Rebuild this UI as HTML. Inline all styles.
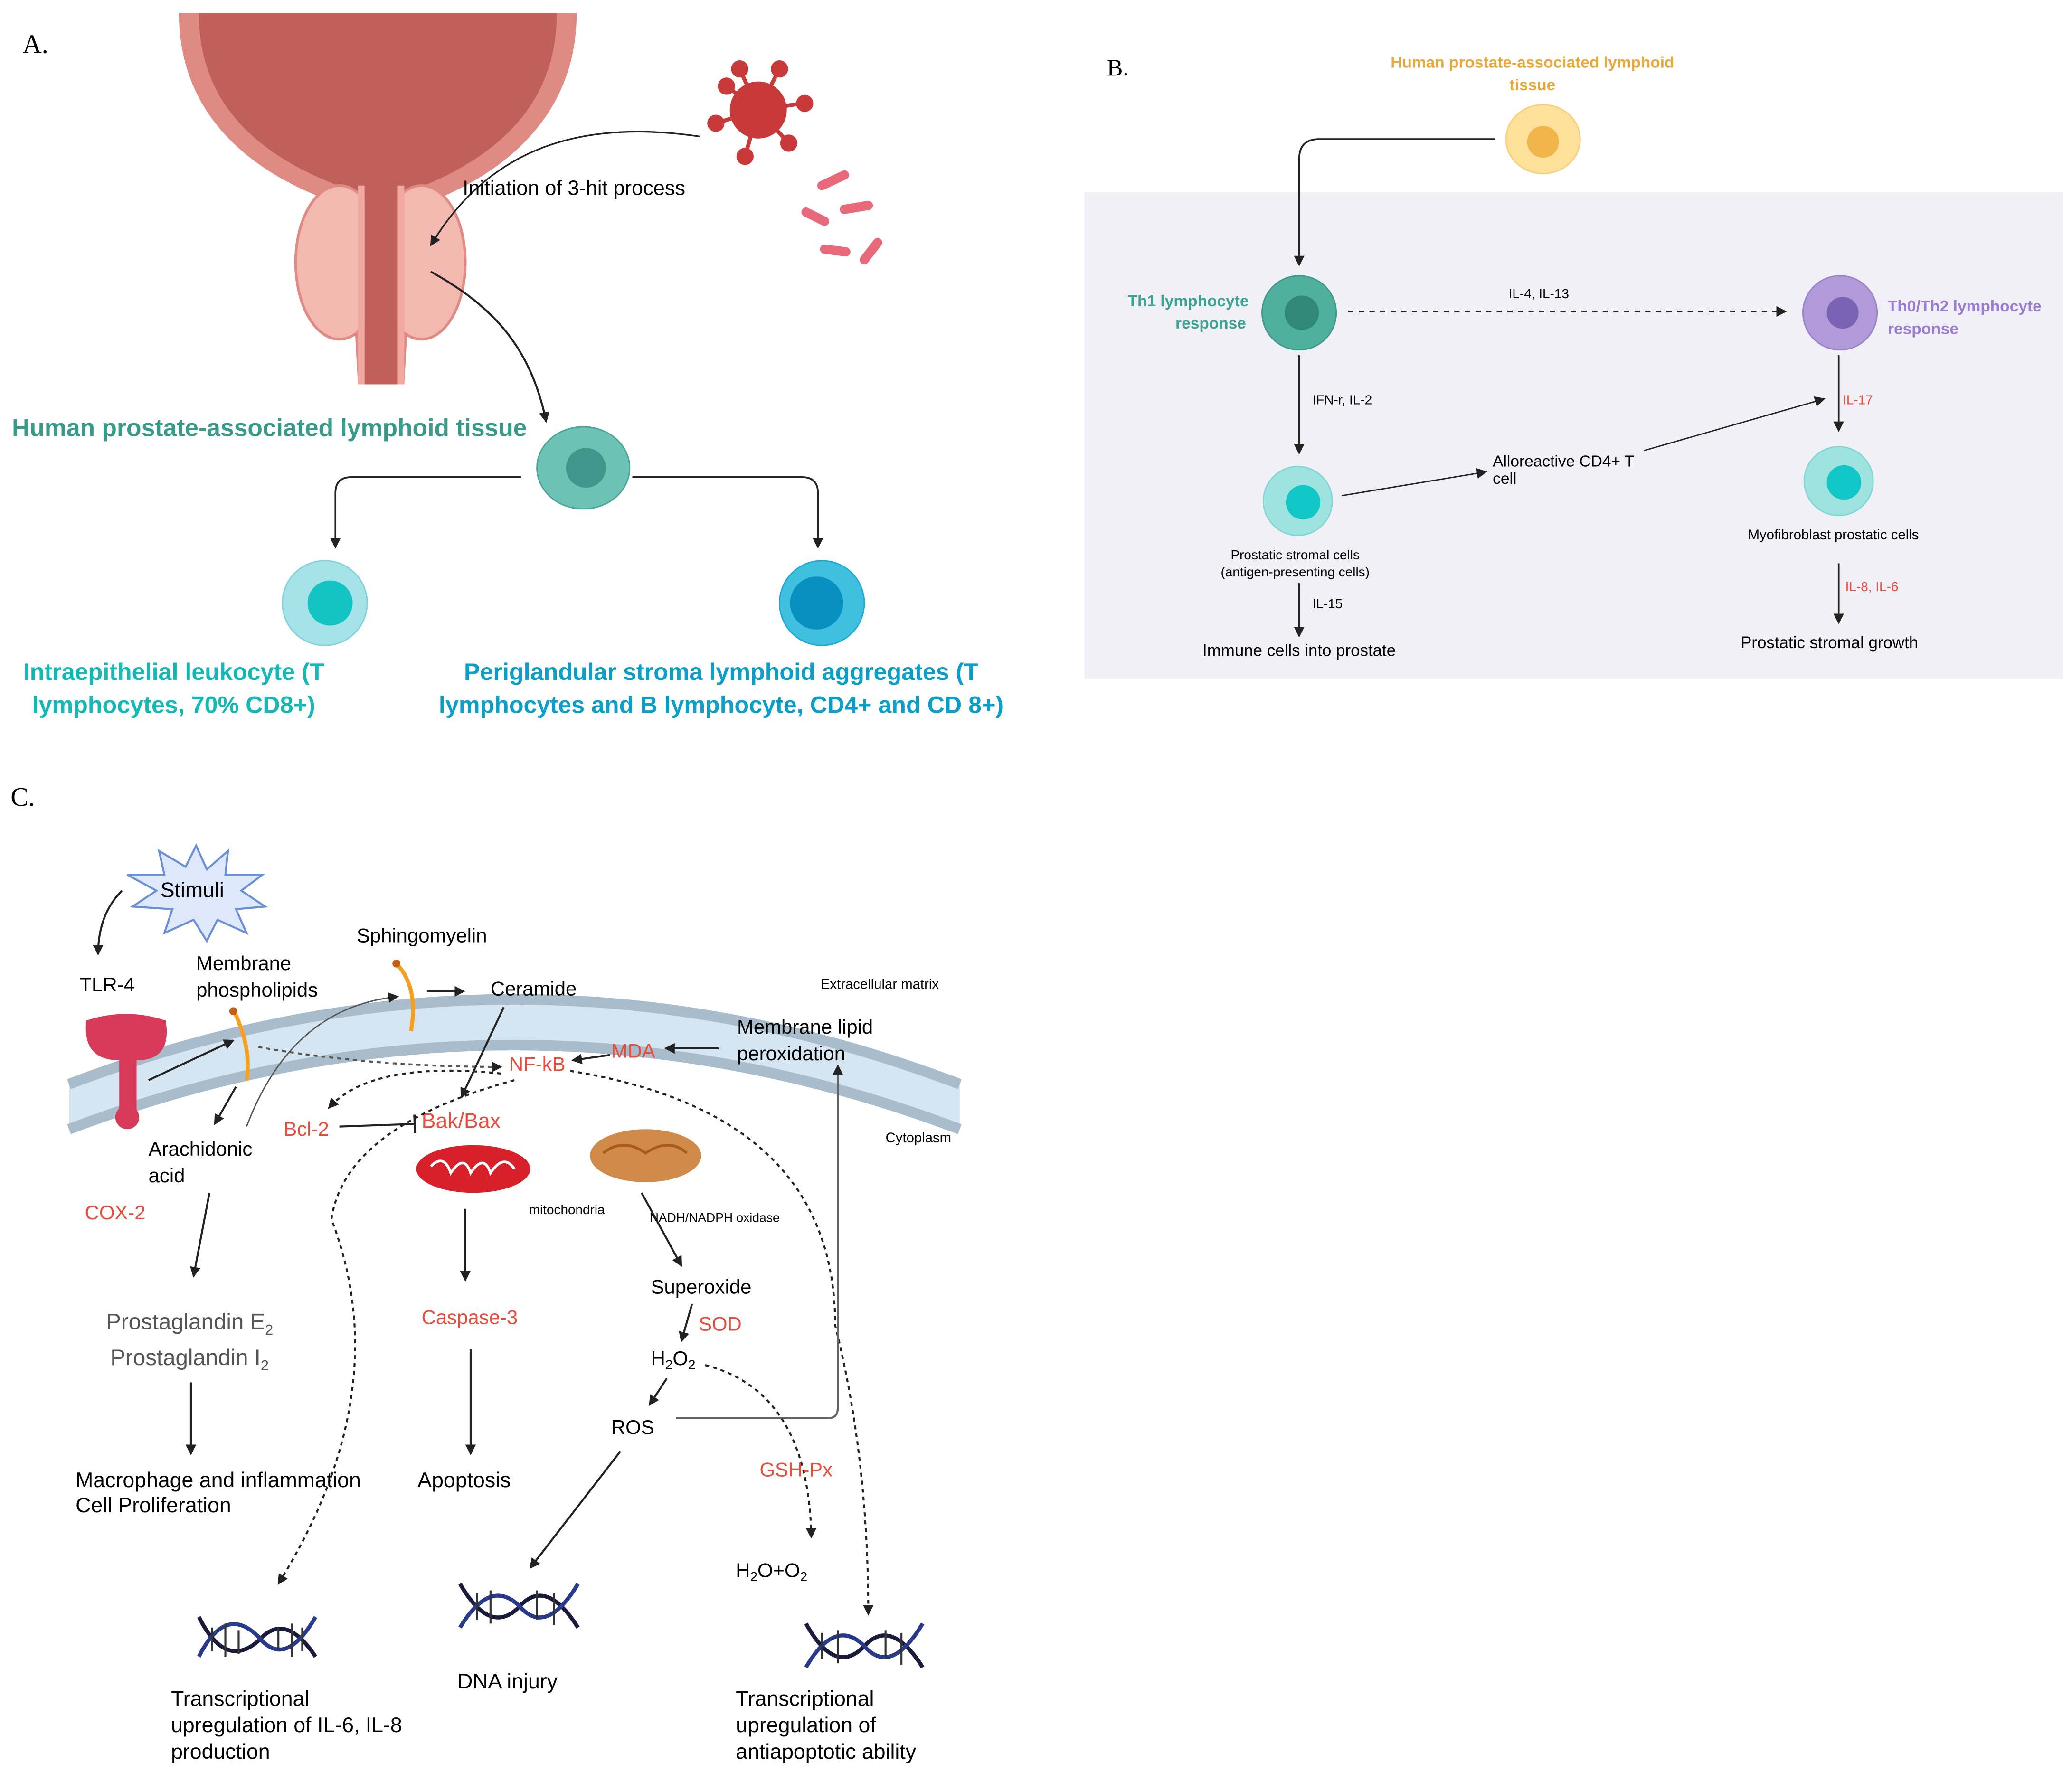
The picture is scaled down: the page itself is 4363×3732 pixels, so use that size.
<!DOCTYPE html>
<html><head><meta charset="utf-8"><style>
html,body{margin:0;padding:0;background:#fff}
svg{display:block}
text{font-family:"Liberation Sans",sans-serif}
.s{font-family:"Liberation Serif",serif}
</style></head><body>
<svg width="4363" height="3732" viewBox="0 0 1563 1337" preserveAspectRatio="none" xmlns="http://www.w3.org/2000/svg">
<defs>
<marker id="a" markerWidth="8" markerHeight="8" refX="7" refY="4" orient="auto" markerUnits="userSpaceOnUse"><path d="M0,0 L8,4 L0,8 z" fill="#222"/></marker>
<marker id="t" markerWidth="4" markerHeight="14" refX="2" refY="7" orient="auto" markerUnits="userSpaceOnUse"><rect x="1" y="0" width="2" height="14" fill="#222"/></marker>
</defs>
<rect width="1563" height="1337" fill="#fff"/>
<!-- Panel A -->
<text x="17" y="40" class="s" font-size="20">A.</text>
<path d="M135,10 L435,10 C435,80 390,125 330,150 L312,165 L305,290 L270,290 L263,165 L245,150 C180,125 135,80 135,10z" fill="#e08a84"/>
<path d="M150,10 L420,10 C420,75 380,115 320,140 L300,160 L298,290 L277,290 L275,160 L255,140 C190,115 150,75 150,10z" fill="#c0605a"/>
<ellipse cx="256" cy="198" rx="33" ry="58" fill="#f3b8b0" stroke="#e08a84" stroke-width="2"/>
<ellipse cx="318" cy="198" rx="33" ry="58" fill="#f3b8b0" stroke="#e08a84" stroke-width="2"/>
<rect x="275" y="140" width="25" height="150" fill="#c0605a"/>
<rect x="270" y="140" width="5" height="150" fill="#f0a8a0"/><rect x="300" y="140" width="5" height="150" fill="#f0a8a0"/>
<g fill="#c83a3a" stroke="#c83a3a" stroke-width="3">
<circle cx="572" cy="83" r="20"/><line x1="572" y1="83" x2="558" y2="52"/><line x1="572" y1="83" x2="588" y2="52"/><line x1="572" y1="83" x2="605" y2="78"/><line x1="572" y1="83" x2="595" y2="108"/><line x1="572" y1="83" x2="562" y2="118"/><line x1="572" y1="83" x2="540" y2="93"/><line x1="572" y1="83" x2="548" y2="65"/>
<circle cx="558" cy="52" r="5"/><circle cx="588" cy="52" r="5"/><circle cx="607" cy="78" r="5"/><circle cx="595" cy="108" r="5"/><circle cx="562" cy="118" r="5"/><circle cx="540" cy="93" r="5"/><circle cx="548" cy="65" r="5"/>
</g>
<g stroke="#e86a7a" stroke-width="7" stroke-linecap="round">
<line x1="620" y1="140" x2="637" y2="132"/><line x1="637" y1="158" x2="655" y2="155"/><line x1="608" y1="160" x2="622" y2="167"/><line x1="622" y1="188" x2="638" y2="190"/><line x1="652" y1="196" x2="662" y2="183"/>
</g>
<path d="M528,103 C440,90 370,110 325,185" fill="none" stroke="#222" stroke-width="1.2" marker-end="url(#a)"/>
<text x="349" y="147" font-size="15.5">Initiation of 3-hit process</text>
<path d="M325,205 C370,230 400,260 412,318" fill="none" stroke="#222" stroke-width="1.5" marker-end="url(#a)"/>
<text x="9" y="329" font-size="18.5" font-weight="bold" fill="#3a9a8a">Human prostate-associated lymphoid tissue</text>
<ellipse cx="440" cy="353" rx="35" ry="31" fill="#6cc2b4" stroke="#4aa394"/><circle cx="442" cy="353" r="15" fill="#3f968a"/>
<path d="M393,360 L265,360 Q253,360 253,372 L253,413" fill="none" stroke="#222" stroke-width="1.3" marker-end="url(#a)"/>
<path d="M477,360 L605,360 Q617,360 617,372 L617,413" fill="none" stroke="#222" stroke-width="1.3" marker-end="url(#a)"/>
<circle cx="245" cy="455" r="32" fill="#a6e3e8" stroke="#7fd2da"/><circle cx="249" cy="455" r="17" fill="#14c4c4"/>
<circle cx="620" cy="455" r="32" fill="#3fc0e0" stroke="#1fa8d2"/><circle cx="616" cy="455" r="20" fill="#0890c0"/>
<g font-size="18" font-weight="bold" fill="#14b8b4" text-anchor="middle"><text x="131" y="513">Intraepithelial leukocyte (T</text><text x="131" y="538">lymphocytes, 70% CD8+)</text></g>
<g font-size="18" font-weight="bold" fill="#0a9ec8" text-anchor="middle"><text x="544" y="513">Periglandular stroma lymphoid aggregates (T</text><text x="544" y="538">lymphocytes and B lymphocyte, CD4+ and CD 8+)</text></g>
<!-- Panel B -->
<text x="835" y="57" class="s" font-size="18">B.</text>
<rect x="818" y="145" width="738" height="367" fill="#f0f0f6"/>
<g font-size="12" font-weight="bold" fill="#e8a73a" text-anchor="middle"><text x="1156" y="51">Human prostate-associated lymphoid</text><text x="1156" y="68">tissue</text></g>
<ellipse cx="1164" cy="105" rx="28" ry="26" fill="#fde19a" stroke="#f7cf78"/><circle cx="1164" cy="107" r="12" fill="#f2b54c"/>
<path d="M1128,105 L995,105 Q980,105 980,120 L980,200" fill="none" stroke="#222" stroke-width="1.3" marker-end="url(#a)"/>
<ellipse cx="980" cy="236" rx="28" ry="28" fill="#4fb09e" stroke="#3d9a88"/><circle cx="982" cy="236" r="13" fill="#2f8878"/>
<g font-size="12" font-weight="bold" fill="#3aa392" text-anchor="end"><text x="942" y="231">Th1 lymphocyte</text><text x="940" y="248">response</text></g>
<path d="M1017,235 L1347,235" stroke="#222" stroke-width="1.3" stroke-dasharray="4,4" fill="none" marker-end="url(#a)"/>
<text x="1138" y="225" font-size="10">IL-4, IL-13</text>
<ellipse cx="1388" cy="236" rx="28" ry="28" fill="#b09ad8" stroke="#9a82c8"/><circle cx="1390" cy="236" r="12" fill="#7a62b4"/>
<g font-size="12" font-weight="bold" fill="#9a7cd0"><text x="1424" y="235">Th0/Th2 lymphocyte</text><text x="1424" y="252">response</text></g>
<line x1="980" y1="268" x2="980" y2="342" stroke="#222" stroke-width="1.3" marker-end="url(#a)"/>
<text x="990" y="305" font-size="10">IFN-r,  IL-2</text>
<circle cx="979" cy="378" r="26" fill="#9ee3e0" stroke="#7fd6d2"/><circle cx="983" cy="379" r="13" fill="#10c6c6"/>
<line x1="1012" y1="374" x2="1121" y2="356" stroke="#222" stroke-width="1" marker-end="url(#a)"/>
<g font-size="12"><text x="1126" y="352">Alloreactive CD4+ T</text><text x="1126" y="365">cell</text></g>
<line x1="1240" y1="340" x2="1376" y2="301" stroke="#222" stroke-width="1" marker-end="url(#a)"/>
<g font-size="10" text-anchor="middle"><text x="977" y="422">Prostatic stromal cells</text><text x="977" y="435">(antigen-presenting cells)</text></g>
<line x1="980" y1="440" x2="980" y2="480" stroke="#222" stroke-width="1.3" marker-end="url(#a)"/>
<text x="990" y="459" font-size="10">IL-15</text>
<text x="980" y="495" font-size="12.5" text-anchor="middle">Immune cells into prostate</text>
<line x1="1387" y1="268" x2="1387" y2="325" stroke="#222" stroke-width="1.3" marker-end="url(#a)"/>
<text x="1390" y="305" font-size="10" fill="#e74c3c">IL-17</text>
<circle cx="1387" cy="363" r="26" fill="#9ee3e0" stroke="#7fd6d2"/><circle cx="1391" cy="364" r="13" fill="#10c6c6"/>
<text x="1383" y="407" font-size="10.5" text-anchor="middle">Myofibroblast prostatic cells</text>
<line x1="1387" y1="425" x2="1387" y2="470" stroke="#222" stroke-width="1.3" marker-end="url(#a)"/>
<text x="1392" y="446" font-size="10" fill="#e74c3c">IL-8, IL-6</text>
<text x="1380" y="489" font-size="12.5" text-anchor="middle">Prostatic stromal growth</text>
<!-- Panel C -->
<text x="8" y="608" class="s" font-size="20">C.</text>
<path d="M52,818 Q388,690 724,818 L724,852 Q388,725 52,852z" fill="#d5e6f2"/>
<path d="M52,818 Q388,690 724,818" fill="none" stroke="#a8bccb" stroke-width="8"/>
<path d="M52,852 Q388,725 724,852" fill="none" stroke="#a8bccb" stroke-width="8"/>
<polygon points="148,638 156,656 172,642 170,660 198,660 182,672 200,684 178,686 186,704 164,694 156,710 146,694 124,704 130,686 100,684 118,672 96,660 124,660 120,642 140,654" fill="#dde9fb" stroke="#6a8fd6" stroke-width="1.5"/>
<text x="121" y="677" font-size="16">Stimuli</text>
<path d="M92,672 Q74,690 74,720" fill="none" stroke="#222" stroke-width="1.5" marker-end="url(#a)"/>
<text x="60" y="748" font-size="15">TLR-4</text>
<g fill="#d83a5a"><path d="M65,770 Q95,760 125,770 Q130,800 103,800 L103,840 L90,840 L90,800 Q62,800 65,770z"/><circle cx="96" cy="843" r="9"/></g>
<g font-size="15"><text x="148" y="732">Membrane</text><text x="148" y="752">phospholipids</text><text x="269" y="711">Sphingomyelin</text><text x="370" y="751">Ceramide</text><text x="556" y="780">Membrane lipid</text><text x="556" y="800">peroxidation</text><text x="112" y="872">Arachidonic</text><text x="112" y="892">acid</text></g>
<text x="619" y="746" font-size="10.5">Extracellular matrix</text>
<text x="668" y="862" font-size="10.5">Cytoplasm</text>
<path d="M176,762 Q190,790 186,815" fill="none" stroke="#f5a020" stroke-width="3"/><circle cx="176" cy="763" r="3" fill="#c06010"/>
<path d="M299,727 Q316,745 310,778" fill="none" stroke="#f5a020" stroke-width="3"/><circle cx="299" cy="727" r="3" fill="#c06010"/>
<line x1="112" y1="815" x2="176" y2="785" stroke="#222" stroke-width="1.5" marker-end="url(#a)"/>
<path d="M186,850 Q220,760 300,752" fill="none" stroke="#555" stroke-width="1" marker-end="url(#a)"/>
<line x1="322" y1="748" x2="350" y2="748" stroke="#222" stroke-width="1.5" marker-end="url(#a)"/>
<line x1="178" y1="820" x2="162" y2="848" stroke="#222" stroke-width="1.5" marker-end="url(#a)"/>
<path d="M195,790 Q280,805 378,805" fill="none" stroke="#555" stroke-width="1.5" stroke-dasharray="3,3" marker-end="url(#a)"/>
<text x="384" y="808" font-size="15" fill="#e74c3c">NF-kB</text>
<text x="461" y="798" font-size="15" fill="#e74c3c">MDA</text>
<line x1="542" y1="791" x2="502" y2="791" stroke="#222" stroke-width="1.5" marker-end="url(#a)"/>
<line x1="460" y1="796" x2="432" y2="800" stroke="#222" stroke-width="1.5" marker-end="url(#a)"/>
<line x1="380" y1="760" x2="348" y2="828" stroke="#222" stroke-width="1.5" marker-end="url(#a)"/>
<path d="M378,810 Q280,800 248,836" fill="none" stroke="#222" stroke-width="1.5" stroke-dasharray="3,3" marker-end="url(#a)"/>
<text x="214" y="857" font-size="15" fill="#e74c3c">Bcl-2</text>
<line x1="256" y1="850" x2="313" y2="848" stroke="#222" stroke-width="1.5" marker-end="url(#t)"/>
<text x="318" y="851" font-size="16" fill="#e74c3c">Bak/Bax</text>
<path d="M388,815 Q260,850 250,920 Q300,1050 210,1195" fill="none" stroke="#222" stroke-width="1.5" stroke-dasharray="3,3" marker-end="url(#a)"/>
<path d="M430,808 Q630,840 630,1000 Q655,1100 655,1218" fill="none" stroke="#222" stroke-width="1.5" stroke-dasharray="3,3" marker-end="url(#a)"/>
<text x="64" y="920" font-size="15" fill="#e74c3c">COX-2</text>
<ellipse cx="357" cy="882" rx="43" ry="18" fill="#d8202a"/><path d="M325,880 Q335,870 340,885 Q350,870 355,885 Q365,870 370,885 Q380,870 388,882" fill="none" stroke="#fff" stroke-width="2"/>
<ellipse cx="487" cy="872" rx="42" ry="20" fill="#d08a4a"/><path d="M455,870 Q470,858 487,870 Q505,858 518,870" fill="none" stroke="#a85a20" stroke-width="2"/>
<text x="399" y="916" font-size="10">mitochondria</text>
<text x="490" y="922" font-size="9.5">NADH/NADPH oxidase</text>
<line x1="158" y1="900" x2="146" y2="963" stroke="#222" stroke-width="1.5" marker-end="url(#a)"/>
<line x1="351" y1="912" x2="351" y2="966" stroke="#222" stroke-width="1.5" marker-end="url(#a)"/>
<line x1="484" y1="900" x2="514" y2="955" stroke="#222" stroke-width="1.5" marker-end="url(#a)"/>
<text x="491" y="976" font-size="15">Superoxide</text>
<text x="527" y="1004" font-size="15" fill="#e74c3c">SOD</text>
<line x1="522" y1="984" x2="514" y2="1012" stroke="#222" stroke-width="1.5" marker-end="url(#a)"/>
<text x="491" y="1030" font-size="15">H<tspan font-size="10" dy="3">2</tspan><tspan dy="-3">O</tspan><tspan font-size="10" dy="3">2</tspan></text>
<line x1="503" y1="1040" x2="490" y2="1060" stroke="#222" stroke-width="1.5" marker-end="url(#a)"/>
<text x="461" y="1082" font-size="15">ROS</text>
<path d="M510,1070 L625,1070 Q632,1070 632,1062 L632,804" fill="none" stroke="#666" stroke-width="1.5" marker-end="url(#a)"/>
<path d="M532,1030 Q610,1050 612,1160" fill="none" stroke="#222" stroke-width="1.5" stroke-dasharray="3,3" marker-end="url(#a)"/>
<text x="573" y="1114" font-size="15" fill="#e74c3c">GSH-Px</text>
<text x="555" y="1190" font-size="15">H<tspan font-size="10" dy="3">2</tspan><tspan dy="-3">O+O</tspan><tspan font-size="10" dy="3">2</tspan></text>
<line x1="468" y1="1095" x2="400" y2="1183" stroke="#222" stroke-width="1.5" marker-end="url(#a)"/>
<text x="318" y="999" font-size="15" fill="#e74c3c">Caspase-3</text>
<line x1="355" y1="1018" x2="355" y2="1097" stroke="#222" stroke-width="1.5" marker-end="url(#a)"/>
<text x="315" y="1122" font-size="16">Apoptosis</text>
<g font-size="17" fill="#555" text-anchor="middle"><text x="143" y="1003">Prostaglandin E<tspan font-size="11" dy="4">2</tspan></text><text x="143" y="1030">Prostaglandin I<tspan font-size="11" dy="4">2</tspan></text></g>
<line x1="144" y1="1043" x2="144" y2="1097" stroke="#222" stroke-width="1.5" marker-end="url(#a)"/>
<g font-size="16"><text x="57" y="1122">Macrophage and inflammation</text><text x="57" y="1141">Cell Proliferation</text></g>
<g fill="none" stroke-width="3">
<path d="M150,1220 Q170,1260 195,1238 Q215,1215 238,1250" stroke="#1a1a3a"/><path d="M150,1250 Q170,1210 195,1235 Q215,1260 238,1220" stroke="#2a3a8a"/>
<path d="M347,1195 Q370,1235 392,1212 Q412,1190 436,1228" stroke="#1a1a3a"/><path d="M347,1228 Q370,1190 392,1212 Q412,1235 436,1195" stroke="#2a3a8a"/>
<path d="M608,1225 Q630,1265 652,1242 Q672,1220 696,1258" stroke="#1a1a3a"/><path d="M608,1258 Q630,1220 652,1242 Q672,1265 696,1225" stroke="#2a3a8a"/>
</g>
<g stroke="#333" stroke-width="1.5"><line x1="160" y1="1228" x2="160" y2="1246"/><line x1="170" y1="1225" x2="170" y2="1250"/><line x1="180" y1="1230" x2="180" y2="1248"/><line x1="210" y1="1228" x2="210" y2="1245"/><line x1="220" y1="1225" x2="220" y2="1250"/><line x1="228" y1="1228" x2="228" y2="1246"/>
<line x1="360" y1="1202" x2="360" y2="1222"/><line x1="370" y1="1200" x2="370" y2="1225"/><line x1="405" y1="1200" x2="405" y2="1222"/><line x1="418" y1="1202" x2="418" y2="1226"/>
<line x1="620" y1="1232" x2="620" y2="1252"/><line x1="632" y1="1230" x2="632" y2="1255"/><line x1="668" y1="1230" x2="668" y2="1252"/><line x1="680" y1="1232" x2="680" y2="1256"/></g>
<g font-size="16"><text x="129" y="1287">Transcriptional</text><text x="129" y="1307">upregulation of IL-6, IL-8</text><text x="129" y="1327">production</text>
<text x="345" y="1274">DNA injury</text>
<text x="555" y="1287">Transcriptional</text><text x="555" y="1307">upregulation of</text><text x="555" y="1327">antiapoptotic ability</text></g>
</svg>
</body></html>
